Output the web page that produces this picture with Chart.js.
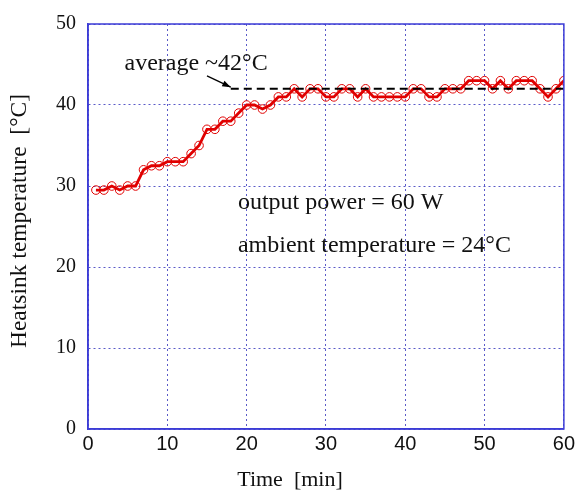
<!DOCTYPE html>
<html>
<head>
<meta charset="utf-8">
<script src="https://cdn.jsdelivr.net/npm/chart.js@4/dist/chart.umd.min.js"></script>
<style>
  html, body { margin: 0; padding: 0; background: #fff; }
  #wrap { width: 578px; height: 492px; }
</style>
</head>
<body>
<div id="wrap"><canvas id="tempChart" width="578" height="492"></canvas></div>
<script>
const minutes = [
  1, 2, 3, 4, 5, 6, 7, 8, 9, 10, 11, 12, 13, 14, 15, 16, 17, 18, 19, 20,
  21, 22, 23, 24, 25, 26, 27, 28, 29, 30, 31, 32, 33, 34, 35, 36, 37, 38, 39, 40,
  41, 42, 43, 44, 45, 46, 47, 48, 49, 50, 51, 52, 53, 54, 55, 56, 57, 58, 59, 60,
];
const heatsinkTemp = [
  29.5, 29.5, 30, 29.5, 30, 30, 32, 32.5, 32.5, 33, 33, 33, 34, 35, 37, 37, 38, 38, 39, 40,
  40, 39.5, 40, 41, 41, 42, 41, 42, 42, 41, 41, 42, 42, 41, 42, 41, 41, 41, 41, 41,
  42, 42, 41, 41, 42, 42, 42, 43, 43, 43, 42, 43, 42, 43, 43, 43, 42, 41, 42, 43,
];
const avgX = [18, 60];
const avgY = [42, 42];
const xTicks = [0, 10, 20, 30, 40, 50, 60];
const yTicks = [0, 10, 20, 30, 40, 50];

const blue = "#3d3dd6";
const gridBlue = "#5a5ac8";
const serif = "'Liberation Serif', 'Times New Roman', serif";
const sans = "'Liberation Sans', Arial, sans-serif";

// text and arrow placed in data units
const notes = [
  { text: "average ~42\u00b0C", x: 4.6, y: 45.1 },
  { text: "output power = 60 W", x: 18.9, y: 27.9 },
  { text: "ambient temperature = 24\u00b0C", x: 18.9, y: 22.6 },
];
const arrow = { x1: 15.0, y1: 43.6, x2: 18.0, y2: 42.2 };

const notesPlugin = {
  id: "notes",
  afterDraw(chart) {
    const { ctx, chartArea: a, scales } = chart;
    const sx = scales.x, sy = scales.y;
    ctx.save();
    // frame box
    ctx.strokeStyle = blue;
    ctx.lineWidth = 1.5;
    ctx.strokeRect(a.left, a.top, a.right - a.left, a.bottom - a.top);

    ctx.fillStyle = "#111";
    ctx.font = "24px " + serif;
    ctx.textBaseline = "middle";
    ctx.textAlign = "left";
    notes.forEach(n => {
      ctx.fillText(n.text, sx.getPixelForValue(n.x), sy.getPixelForValue(n.y));
    });

    // axis titles
    ctx.textAlign = "center";
    ctx.font = "22px " + serif;
    ctx.fillText("Time  [min]", 290, 480);
    ctx.save();
    ctx.translate(20, 221);
    ctx.rotate(-Math.PI / 2);
    ctx.font = "23.5px " + serif;
    ctx.fillText("Heatsink temperature  [\u00b0C]", 0, 0);
    ctx.restore();

    // arrow
    const x1 = sx.getPixelForValue(arrow.x1), y1 = sy.getPixelForValue(arrow.y1);
    const x2 = sx.getPixelForValue(arrow.x2), y2 = sy.getPixelForValue(arrow.y2);
    ctx.strokeStyle = "#000";
    ctx.lineWidth = 1.3;
    ctx.beginPath();
    ctx.moveTo(x1, y1);
    ctx.lineTo(x2, y2);
    ctx.stroke();
    const ang = Math.atan2(y2 - y1, x2 - x1);
    ctx.fillStyle = "#000";
    ctx.beginPath();
    ctx.moveTo(x2, y2);
    ctx.lineTo(x2 - 9 * Math.cos(ang - 0.35), y2 - 9 * Math.sin(ang - 0.35));
    ctx.lineTo(x2 - 9 * Math.cos(ang + 0.35), y2 - 9 * Math.sin(ang + 0.35));
    ctx.closePath();
    ctx.fill();
    ctx.restore();
  },
};

const ctx = document.getElementById("tempChart").getContext("2d");

new Chart(ctx, {
  type: "line",
  data: {
    datasets: [
      {
        label: "average",
        data: avgX.map((x, i) => ({ x: x, y: avgY[i] })),
        borderColor: "#000",
        borderWidth: 2,
        borderDash: [8, 5],
        pointRadius: 0,
        fill: false,
      },
      {
        label: "Heatsink temperature",
        data: minutes.map((m, i) => ({ x: m, y: heatsinkTemp[i] })),
        borderColor: "#e00000",
        borderWidth: 2.8,
        pointRadius: 4.3,
        pointBorderWidth: 1,
        pointBorderColor: "#e00000",
        pointBackgroundColor: "rgba(255,255,255,0)",
        tension: 0,
        fill: false,
      },
    ],
  },
  options: {
    responsive: false,
    animation: false,
    layout: { padding: { left: 0, right: 13, top: 22, bottom: 0 } },
    plugins: {
      legend: { display: false },
      tooltip: { enabled: false },
    },
    scales: {
      x: {
        type: "linear",
        min: 0,
        max: 60,
        afterBuildTicks: s => { s.ticks = xTicks.map(v => ({ value: v })); },
        afterFit: s => { s.height = 63; },
        grid: { color: gridBlue, lineWidth: 1, drawTicks: false },
        border: { color: blue, width: 1.5, dash: [2, 3] },
        ticks: { color: "#111", font: { family: sans, size: 20 }, padding: 3 },
      },
      y: {
        min: 0,
        max: 50,
        afterBuildTicks: s => { s.ticks = yTicks.map(v => ({ value: v })); },
        afterFit: s => { s.width = 88; },
        grid: { color: gridBlue, lineWidth: 1, drawTicks: false },
        border: { color: blue, width: 1.5, dash: [2, 3] },
        ticks: { color: "#111", font: { family: serif, size: 20 }, padding: 12 },
      },
    },
  },
  plugins: [notesPlugin],
});
</script>
</body>
</html>
